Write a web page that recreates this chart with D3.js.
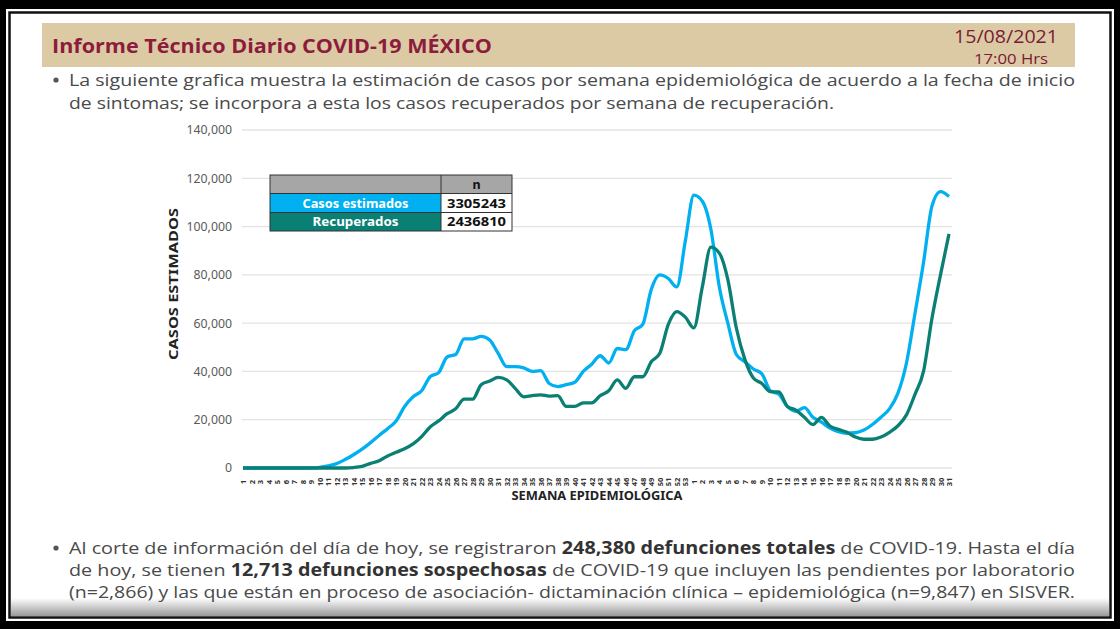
<!DOCTYPE html>
<html><head><meta charset="utf-8">
<script src="https://cdn.jsdelivr.net/npm/d3@7"></script>
<style>
html,body{margin:0;padding:0;background:#000;}
svg{display:block;}
</style></head>
<body>
<svg id="c" width="1120" height="629"></svg>
<script>
// ---------- DATA ----------
const weekLabels = [
 "1","2","3","4","5","6","7","8","9","10","11","12","13","14","15","16","17","18","19","20",
 "21","22","23","24","25","26","27","28","29","30","31","32","33","34","35","36","37","38","39","40",
 "41","42","43","44","45","46","47","48","49","50","51","52","53",
 "1","2","3","4","5","6","7","8","9","10","11","12","13","14","15","16","17","18","19","20",
 "21","22","23","24","25","26","27","28","29","30","31"];
const casosEstimados = [
 0,0,0,0,0,0,0,0,50,300,900,1800,3500,5500,7800,10500,13500,16300,19500,25500,
 29500,32000,37800,39500,46000,47000,53500,53500,54500,53000,47500,42000,42000,41500,40000,40300,35000,33700,34500,35500,
 40000,43000,46500,43500,49500,49000,56800,59500,74000,80000,78500,75000,94000,
 113000,110500,99000,75000,60000,47000,44000,41000,39000,32000,30500,25500,23500,25000,21000,19000,16500,15000,
 14400,14600,15700,18000,21000,24500,31000,43500,64000,85000,108500,114500,112500];
const recuperados = [
 0,0,0,0,0,0,0,0,0,0,0,0,0,200,700,1900,3000,5000,6500,8000,
 10000,13000,17000,19500,22500,24500,28500,28500,34500,36000,37500,36500,33000,29500,30000,30300,29800,30000,25500,25500,
 27000,27000,30000,32000,36500,33000,37800,37800,44000,47500,59500,64800,62500,
 58000,75000,91500,89000,78000,58000,45000,37300,35000,31600,31500,25500,24000,21000,18000,21000,17400,16000,
 14800,12800,11900,11900,12800,14800,17500,22000,30500,40000,62000,80000,97000];
const yTicks = [0,20000,40000,60000,80000,100000,120000,140000];
const seriesNames = ["Casos estimados","Recuperados"];
const seriesTotals = ["3305243","2436810"];

// ---------- SETUP ----------
const svg = d3.select("#c");
const W = 1120, H = 629;
const blue = "#00b0f0", teal = "#0a7f74";
const keys = weekLabels.map((d,i)=>i);

// frame
svg.append("rect").attr("x",0).attr("y",0).attr("width",W).attr("height",H).attr("fill","#000");
svg.append("rect").attr("x",6).attr("y",9).attr("width",1108).attr("height",612).attr("fill","#fff");
svg.append("rect").attr("x",9.5).attr("y",12.5).attr("width",1101).attr("height",605).attr("fill","#fff")
  .attr("stroke","#111").attr("stroke-width",2.5);
const grad = svg.append("defs").append("linearGradient").attr("id","sh").attr("x1",0).attr("y1",0).attr("x2",0).attr("y2",1);
grad.append("stop").attr("offset","0%").attr("stop-color","#fff");
grad.append("stop").attr("offset","100%").attr("stop-color","#9a9a9a");
svg.append("rect").attr("x",11).attr("y",598).attr("width",1098).attr("height",18).attr("fill","url(#sh)");

// header band
svg.append("rect").attr("x",42).attr("y",23).attr("width",1033).attr("height",44).attr("fill","#dccaa4");
svg.append("text").attr("x",52).attr("y",53).attr("font-family","Open Sans").attr("font-weight","bold")
  .attr("font-size",20).attr("fill","#8c1c3c").attr("textLength",440).attr("lengthAdjust","spacingAndGlyphs")
  .text("Informe Técnico Diario COVID-19 MÉXICO");
svg.append("text").attr("x",1058).attr("y",43).attr("text-anchor","end").attr("font-family","Open Sans")
  .attr("font-size",19).attr("fill","#7a1a36").attr("textLength",104).attr("lengthAdjust","spacingAndGlyphs").text("15/08/2021");
svg.append("text").attr("x",1048).attr("y",64).attr("text-anchor","end").attr("font-family","Open Sans")
  .attr("font-size",15).attr("fill","#7a1a36").attr("textLength",74).attr("lengthAdjust","spacingAndGlyphs").text("17:00 Hrs");

// paragraphs
const txtCol = "#4a4a4a";
function line(y, parts, len){
  const t = svg.append("text").attr("x",69).attr("y",y).attr("font-family","Open Sans").attr("font-size",17)
    .attr("fill",txtCol).attr("textLength",len).attr("lengthAdjust","spacingAndGlyphs");
  parts.forEach(p=>{ t.append("tspan").attr("font-weight",p[1]?"bold":"normal").attr("fill",p[1]?"#333":txtCol).text(p[0]); });
}
svg.append("circle").attr("cx",56).attr("cy",80).attr("r",2.6).attr("fill","#555");
line(86,[["La siguiente grafica muestra la estimación de casos por semana epidemiológica de acuerdo a la fecha de inicio",0]],1006);
line(109,[["de sintomas; se incorpora a esta los casos recuperados por semana de recuperación.",0]],765);
svg.append("circle").attr("cx",56).attr("cy",548).attr("r",2.6).attr("fill","#555");
line(554,[["Al corte de información del día de hoy, se registraron ",0],["248,380 defunciones totales",1],[" de COVID-19. Hasta el día",0]],1006);
line(576,[["de hoy, se tienen ",0],["12,713 defunciones sospechosas",1],[" de COVID-19 que incluyen las pendientes por laboratorio",0]],1006);
line(598,[["(n=2,866) y las que están en proceso de asociación- dictaminación clínica – epidemiológica (n=9,847) en SISVER.",0]],1006);

// ---------- CHART ----------
const x = d3.scalePoint().domain(keys).range([243,949]);
const y = d3.scaleLinear().domain([0,140000]).range([468,130]);
const chartFont = "Noto Sans";

// grid
svg.append("g").selectAll("line").data(yTicks).join("line")
  .attr("x1",242).attr("x2",952).attr("y1",d=>y(d)).attr("y2",d=>y(d))
  .attr("stroke","#e3e3e3").attr("stroke-width",1.3);

// y axis
const ya = svg.append("g").attr("transform","translate(237,0)")
  .call(d3.axisLeft(y).tickValues(yTicks).tickFormat(d3.format(",")).tickSize(0).tickPadding(5));
ya.select(".domain").remove();
ya.selectAll("text").attr("font-family",chartFont).attr("font-size",12.3).attr("fill","#595959");

// x axis
const xa = svg.append("g").attr("transform","translate(0,470)")
  .call(d3.axisBottom(x).tickFormat(i=>weekLabels[i]).tickSize(0).tickPadding(2));
xa.select(".domain").remove();
xa.selectAll(".tick text").attr("font-family",chartFont).attr("font-size",7.6).attr("font-weight","bold").attr("fill","#333")
  .attr("transform","rotate(-90)").attr("x",-12).attr("y",0).attr("dy","0.34em").attr("text-anchor","middle");

// axis titles
svg.append("text").attr("x",597).attr("y",500).attr("text-anchor","middle").attr("font-family",chartFont)
  .attr("font-weight","bold").attr("font-size",12).attr("fill","#222")
  .attr("textLength",171).attr("lengthAdjust","spacingAndGlyphs").text("SEMANA EPIDEMIOLÓGICA");
svg.append("text").attr("transform","translate(178,284) rotate(-90)").attr("text-anchor","middle").attr("font-family",chartFont)
  .attr("font-weight","bold").attr("font-size",12).attr("fill","#222")
  .attr("textLength",152).attr("lengthAdjust","spacingAndGlyphs").text("CASOS ESTIMADOS");

// lines
const lineGen = d3.line().x((d,i)=>x(i)).y(d=>y(d)).curve(d3.curveMonotoneX);
svg.append("path").datum(casosEstimados).attr("d",lineGen).attr("fill","none").attr("stroke",blue)
  .attr("stroke-width",3.3).attr("stroke-linejoin","round");
svg.append("path").datum(recuperados).attr("d",lineGen).attr("fill","none").attr("stroke",teal)
  .attr("stroke-width",3.3).attr("stroke-linejoin","round");

// legend table
const tx0 = 270, tx1 = 441, tx2 = 512, rowsY = [175,193.5,212.5,231];
const tbl = svg.append("g");
tbl.append("rect").attr("x",tx0).attr("y",rowsY[0]).attr("width",tx2-tx0).attr("height",rowsY[1]-rowsY[0]).attr("fill","#a6a6a6");
[blue,teal].forEach((c,i)=>{
  tbl.append("rect").attr("x",tx0).attr("y",rowsY[i+1]).attr("width",tx1-tx0).attr("height",rowsY[i+2]-rowsY[i+1]).attr("fill",c);
  tbl.append("rect").attr("x",tx1).attr("y",rowsY[i+1]).attr("width",tx2-tx1).attr("height",rowsY[i+2]-rowsY[i+1]).attr("fill","#fff");
  tbl.append("text").attr("x",(tx0+tx1)/2).attr("y",(rowsY[i+1]+rowsY[i+2])/2+4.5).attr("text-anchor","middle")
    .attr("font-family",chartFont).attr("font-weight","bold").attr("font-size",12.5).attr("fill","#fff")
    .attr("textLength",i===0?106:86).attr("lengthAdjust","spacingAndGlyphs").text(seriesNames[i]);
  tbl.append("text").attr("x",(tx1+tx2)/2).attr("y",(rowsY[i+1]+rowsY[i+2])/2+4.5).attr("text-anchor","middle")
    .attr("font-family",chartFont).attr("font-weight","bold").attr("font-size",12.5).attr("fill","#111")
    .attr("textLength",59).attr("lengthAdjust","spacingAndGlyphs").text(seriesTotals[i]);
});
tbl.append("text").attr("x",(tx1+tx2)/2).attr("y",(rowsY[0]+rowsY[1])/2+4.5).attr("text-anchor","middle")
  .attr("font-family",chartFont).attr("font-weight","bold").attr("font-size",12.5).attr("fill","#111").text("n");
tbl.append("rect").attr("x",tx0).attr("y",rowsY[0]).attr("width",tx2-tx0).attr("height",rowsY[3]-rowsY[0])
  .attr("fill","none").attr("stroke","#333").attr("stroke-width",1);
rowsY.slice(1,3).forEach(v=>tbl.append("line").attr("x1",tx0).attr("x2",tx2).attr("y1",v).attr("y2",v).attr("stroke","#333"));
tbl.append("line").attr("x1",tx1).attr("x2",tx1).attr("y1",rowsY[0]).attr("y2",rowsY[3]).attr("stroke","#333");
</script>
</body></html>
